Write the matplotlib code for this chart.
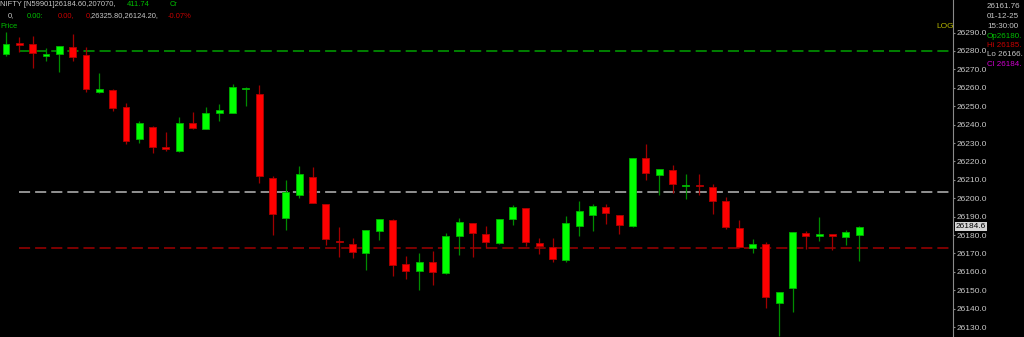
import numpy as np
import matplotlib
matplotlib.use('Agg')
import matplotlib.pyplot as plt

plt.rcParams['font.family'] = ['Liberation Sans', 'DejaVu Sans']
plt.rcParams['lines.scale_dashes'] = False

opens = [26278.4, 26284.2, 26283.8, 26277.3, 26278.2, 26282.3, 26277.7, 26257.7, 26258.8, 26249.7,
         26232.0, 26238.9, 26228.0, 26225.7, 26240.7, 26237.8, 26246.5, 26246.5, 26259.1, 26256.6,
         26211.1, 26189.1, 26201.7, 26211.7, 26196.8, 26176.7, 26175.1, 26170.2, 26182.3, 26188.2,
         26164.1, 26160.3, 26165.3, 26159.5, 26179.5, 26186.4, 26180.7, 26175.5, 26188.7, 26194.5,
         26175.8, 26173.3, 26166.4, 26184.9, 26190.7, 26195.1, 26191.0, 26184.9, 26221.7, 26212.4,
         26215.3, 26206.6, 26207.0, 26205.9, 26198.5, 26184.0, 26173.1, 26175.1, 26142.9, 26151.0,
         26181.2, 26179.5, 26180.2, 26178.8, 26180.0]
closes = [26283.8, 26283.3, 26278.8, 26278.5, 26282.7, 26276.9, 26259.3, 26259.2, 26249.2, 26231.3,
          26240.7, 26227.7, 26226.5, 26241.0, 26238.3, 26246.1, 26247.9, 26260.6, 26259.5, 26212.1,
          26191.2, 26203.2, 26213.2, 26197.6, 26177.7, 26176.0, 26170.6, 26182.7, 26188.5, 26163.9,
          26160.6, 26165.2, 26159.9, 26179.6, 26187.1, 26180.9, 26176.2, 26188.5, 26195.1, 26176.2,
          26174.2, 26167.1, 26186.4, 26193.0, 26195.9, 26192.0, 26185.6, 26221.7, 26213.5, 26215.7,
          26207.6, 26207.0, 26206.6, 26198.6, 26184.5, 26173.3, 26175.1, 26146.1, 26149.2, 26181.5,
          26179.5, 26179.7, 26179.5, 26181.5, 26184.6]
highs = [26290.5, 26287.8, 26288.3, 26281.5, 26282.7, 26289.2, 26282.0, 26268.2, 26259.2, 26251.6,
         26242.0, 26239.2, 26236.0, 26244.3, 26247.0, 26249.4, 26251.2, 26261.9, 26260.3, 26261.5,
         26212.1, 26209.9, 26217.7, 26217.1, 26196.8, 26184.1, 26178.2, 26182.7, 26188.5, 26188.7,
         26168.6, 26170.4, 26171.5, 26180.9, 26189.1, 26186.4, 26184.9, 26188.5, 26196.3, 26194.8,
         26178.2, 26178.2, 26190.3, 26198.5, 26196.8, 26196.7, 26191.0, 26221.7, 26229.5, 26215.7,
         26217.9, 26213.2, 26213.0, 26207.7, 26200.8, 26188.2, 26177.8, 26176.0, 26149.2, 26181.5,
         26182.3, 26189.6, 26180.2, 26182.7, 26185.0]
lows = [26277.4, 26279.6, 26270.6, 26274.7, 26268.4, 26274.7, 26257.9, 26257.0, 26247.6, 26229.5,
        26230.2, 26224.7, 26225.5, 26225.3, 26237.4, 26237.8, 26242.1, 26246.1, 26250.1, 26208.1,
        26180.0, 26182.7, 26200.0, 26197.6, 26174.6, 26168.2, 26167.3, 26161.0, 26177.3, 26157.9,
        26155.9, 26150.1, 26152.8, 26158.8, 26169.1, 26168.2, 26172.8, 26175.1, 26185.4, 26174.0,
        26169.7, 26165.5, 26165.5, 26179.5, 26182.3, 26186.0, 26180.5, 26184.5, 26209.9, 26201.7,
        26203.0, 26199.6, 26201.7, 26191.4, 26183.3, 26172.8, 26170.4, 26140.2, 26125.3, 26138.3,
        26172.4, 26176.7, 26171.8, 26174.6, 26166.0]

# horizontal levels
level_green = 26280.0
level_white = 26203.2
level_red = 26172.8
yticks = np.arange(26130, 26300, 10)

W, H = 1024, 337
fig = plt.figure(figsize=(W / 100, H / 100), dpi=100, facecolor='black')
ax = fig.add_axes([0, 0, 953 / W, 1])
ax.set_facecolor('black')

o = np.array(opens)
c = np.array(closes)
hi = np.array(highs)
lo = np.array(lows)
x = np.arange(len(o))
up = c >= o

ax.vlines(x[up], lo[up], hi[up], color='#008c00', lw=0.9, zorder=2)
ax.vlines(x[~up], lo[~up], hi[~up], color='#a00000', lw=0.9, zorder=2)

bottom = np.minimum(o, c)
height = np.maximum(np.abs(c - o), 0.8)
ax.bar(x[up], height[up], bottom=bottom[up], width=0.52, color='#00ff00',
       edgecolor='#00b000', lw=0.6, zorder=3)
ax.bar(x[~up], height[~up], bottom=bottom[~up], width=0.52, color='#ff0000',
       edgecolor='#b00000', lw=0.6, zorder=3)

dash = (0, (8.0, 3.6))
ax.hlines(level_green, 0.95, 80, color='#008a00', lw=1.3, linestyles=dash, zorder=1)
ax.hlines(level_white, 0.95, 80, color='#b8b8b8', lw=1.1, linestyles=dash, zorder=1)
ax.hlines(level_red, 0.95, 80, color='#a00000', lw=1.1, linestyles=dash, zorder=1)

ax.set_xlim(-0.45, 71.04)
ax.set_ylim(26124.6, 26307.7)

for s in ['top', 'left', 'bottom']:
    ax.spines[s].set_visible(False)
ax.spines['right'].set_color('#8a8a8a')
ax.spines['right'].set_linewidth(0.8)
ax.set_xticks([])
ax.yaxis.tick_right()
ax.set_yticks(yticks)
ax.set_yticklabels(['%.1f' % v for v in yticks])
ax.tick_params(axis='y', colors='#8a8a8a', labelcolor='#c8c8c8', length=1.5,
               width=0.8, pad=0.8, labelsize=6)

# last price box
ax.text(1.003, closes[-1], '%.1f' % closes[-1], transform=ax.get_yaxis_transform(),
        fontsize=6, color='#000000', va='center', ha='left', zorder=5, clip_on=False,
        bbox=dict(boxstyle='square,pad=0.15', fc='#d4d4d4', ec='none'))


def put(px, py, s, col, size=5.4):
    fig.text(px / W, 1 - py / H, s, color=col, fontsize=size, va='center', ha='left')


white = '#c8c8c8'
green = '#00c000'
red = '#c80000'
put(0, 5, 'NIFTY [N59901]26184.60,207070,', white)
put(127, 5, '411.74', green)
put(170, 5, 'Cr', green)
put(8, 16, '0,', white)
put(27, 16, '0.00:', green)
put(58, 16, '0.00,', red)
put(86, 16, '0', red)
put(89, 16, ',26325.80,26124.20,', white)
put(168, 16, '-0.07%', red)
put(0, 27, 'Price', green)

put(936, 26, 'LOG', '#b4b400', 6)

put(987, 6, '26161.76', white, 5.8)
put(987, 16, '01-12-25', white, 5.8)
put(987, 27, '15:30:00', white, 5.8)
put(987, 36, 'Op26180.', green, 5.8)
put(987, 45.5, 'Hi 26185.', red, 5.8)
put(987, 55, 'Lo 26166.', white, 5.8)
put(987, 65, 'Cl 26184.', '#d000d0', 5.8)

fig.savefig('out.png', dpi=100, facecolor='black')
